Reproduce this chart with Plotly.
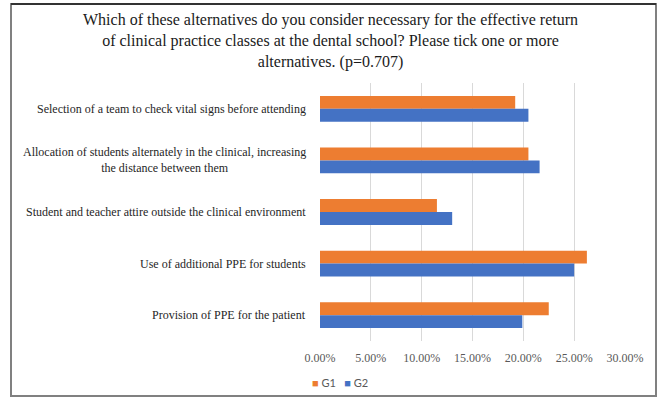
import plotly.graph_objects as go

categories = [
    "Selection of a team to check vital signs before attending",
    "Allocation of students alternately in the clinical, increasing<br>the distance between them",
    "Student and teacher attire outside the clinical environment",
    "Use of additional PPE for students",
    "Provision of PPE for the patient",
]
g1_values = [0.192, 0.205, 0.115, 0.2625, 0.225]
g2_values = [0.205, 0.216, 0.130, 0.250, 0.199]
series_names = ["G1", "G2"]
series_colors = ["#ED7D31", "#4472C4"]
x_tickvals = [0, 0.05, 0.10, 0.15, 0.20, 0.25, 0.30]
x_ticktext = ["0.00%", "5.00%", "10.00%", "15.00%", "20.00%", "25.00%", "30.00%"]
title_text = ("Which of these alternatives do you consider necessary for the effective return<br>"
              "of clinical practice classes at the dental school? Please tick one or more<br>"
              "alternatives. (p=0.707)")

W, H = 659, 397
ML, MR, MT, MB = 320, 34, 83, 56
pw = W - ML - MR
ph = H - MT - MB

def px_x(px):
    return (px - ML) / pw

def px_y(py):
    return (H - MB - py) / ph

fig = go.Figure()
fig.add_trace(go.Bar(y=categories, x=g1_values, name=series_names[0], orientation="h",
                     marker=dict(color=series_colors[0], line=dict(width=0))))
fig.add_trace(go.Bar(y=categories, x=g2_values, name=series_names[1], orientation="h",
                     marker=dict(color=series_colors[1], line=dict(width=0))))

serif = "Liberation Serif, Times New Roman, serif"

for c in categories:
    fig.add_annotation(x=0, xref="paper", y=c, yref="y", text=c, showarrow=False,
                       xanchor="right", yanchor="middle", align="center", xshift=-12,
                       font=dict(family=serif, size=12, color="#262626"))

# title
fig.add_annotation(x=px_x(330), xref="paper", y=px_y(9), yref="paper", text=title_text,
                   showarrow=False, xanchor="center", yanchor="top", align="center",
                   font=dict(family=serif, size=16, color="#1a1a1a"))

# legend (compact, Excel-style)
legend_text = "&nbsp;&nbsp;&nbsp;".join(
    f"<span style='color:{col}'>■</span> {name}" for name, col in zip(series_names, series_colors)
)
fig.add_annotation(x=px_x(310), xref="paper", y=px_y(382), yref="paper", text=legend_text,
                   showarrow=False, xanchor="left", yanchor="middle", align="left",
                   font=dict(family="Lato, Open Sans, sans-serif", size=11, color="#595959"))

fig.update_layout(
    width=W, height=H,
    margin=dict(l=ML, r=MR, t=MT, b=MB, pad=0),
    paper_bgcolor="white", plot_bgcolor="white",
    barmode="group", bargap=0.5, bargroupgap=0,
    xaxis=dict(range=[0, 0.30], tickvals=x_tickvals, ticktext=x_ticktext,
               showgrid=True, gridcolor="#D9D9D9", gridwidth=1, zeroline=False,
               showline=False, ticks="", ticklabelstandoff=8,
               tickfont=dict(family=serif, size=12, color="#595959")),
    yaxis=dict(autorange="reversed", showticklabels=False, showgrid=False,
               zeroline=False, showline=False, ticks=""),
    showlegend=False,
    shapes=[
        dict(type="rect", xref="paper", yref="paper", x0=px_x(11), x1=px_x(656),
             y0=px_y(396), y1=px_y(4), line=dict(color="#808080", width=2), layer="below"),
        dict(type="line", xref="paper", yref="paper", x0=px_x(11), x1=px_x(656),
             y0=px_y(4), y1=px_y(4), line=dict(color="#333333", width=2)),
    ],
)

fig.write_html("out.html")
